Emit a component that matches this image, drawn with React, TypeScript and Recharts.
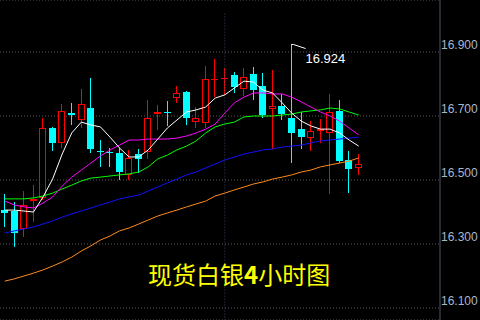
import { Bar, CartesianGrid, ComposedChart, Line, ReferenceLine, XAxis, YAxis } from "recharts";

// 4h candles, oldest first
const open = [16.406, 16.403, 16.347, 16.434, 16.444, 16.663, 16.616, 16.708, 16.6875, 16.725, 16.592, 16.589, 16.584, 16.516, 16.581, 16.5875, 16.706, 16.714, 16.756, 16.775, 16.681, 16.678, 16.814, 16.817, 16.828, 16.784, 16.831, 16.794, 16.722, 16.731, 16.694, 16.659, 16.631, 16.653, 16.647, 16.716, 16.5625, 16.5375];
const close = [16.397, 16.334, 16.422, 16.441, 16.663, 16.616, 16.716, 16.703, 16.7375, 16.597, 16.589, 16.586, 16.525, 16.569, 16.566, 16.694, 16.7125, 16.711, 16.772, 16.694, 16.694, 16.816, 16.817, 16.82, 16.791, 16.822, 16.781, 16.703, 16.731, 16.706, 16.647, 16.634, 16.653, 16.659, 16.7125, 16.559, 16.534, 16.55];
const high = [16.456, 16.431, 16.466, 16.484, 16.694, 16.666, 16.738, 16.741, 16.784, 16.819, 16.625, 16.6, 16.6, 16.594, 16.597, 16.75, 16.734, 16.747, 16.794, 16.778, 16.728, 16.856, 16.878, 16.85, 16.8375, 16.85, 16.853, 16.834, 16.844, 16.769, 16.924, 16.7125, 16.684, 16.691, 16.769, 16.75, 16.591, 16.581];
const low = [16.353, 16.291, 16.322, 16.369, 16.4375, 16.591, 16.6, 16.672, 16.6625, 16.584, 16.541, 16.541, 16.5, 16.5, 16.522, 16.566, 16.656, 16.669, 16.741, 16.672, 16.6625, 16.6625, 16.759, 16.766, 16.772, 16.7625, 16.75, 16.694, 16.597, 16.6875, 16.553, 16.597, 16.591, 16.616, 16.456, 16.553, 16.459, 16.516];

// moving averages
const ma5 = [16.406, 16.406, 16.403, 16.4, 16.447, 16.503, 16.581, 16.647, 16.681, 16.672, 16.666, 16.634, 16.6, 16.572, 16.572, 16.594, 16.628, 16.6625, 16.6875, 16.7125, 16.719, 16.728, 16.756, 16.766, 16.7875, 16.809, 16.806, 16.781, 16.772, 16.741, 16.709, 16.684, 16.669, 16.659, 16.659, 16.647, 16.625, 16.606];
const ma10 = [16.434, 16.422, 16.416, 16.4125, 16.428, 16.447, 16.481, 16.509, 16.531, 16.553, 16.575, 16.594, 16.609, 16.625, 16.625, 16.628, 16.628, 16.628, 16.631, 16.6375, 16.647, 16.659, 16.675, 16.709, 16.741, 16.759, 16.772, 16.772, 16.769, 16.769, 16.759, 16.744, 16.728, 16.7125, 16.7, 16.684, 16.6625, 16.641];
const ma20 = [16.441, 16.441, 16.441, 16.444, 16.45, 16.459, 16.472, 16.484, 16.497, 16.506, 16.509, 16.5125, 16.516, 16.519, 16.525, 16.541, 16.566, 16.578, 16.594, 16.606, 16.622, 16.647, 16.666, 16.675, 16.681, 16.697, 16.7, 16.7, 16.7, 16.703, 16.706, 16.7125, 16.716, 16.719, 16.725, 16.722, 16.7125, 16.703];
const ma40 = [16.334, 16.341, 16.347, 16.353, 16.3625, 16.372, 16.384, 16.394, 16.403, 16.4125, 16.422, 16.431, 16.441, 16.447, 16.453, 16.466, 16.478, 16.491, 16.503, 16.516, 16.525, 16.5375, 16.55, 16.5625, 16.572, 16.581, 16.5875, 16.594, 16.597, 16.603, 16.606, 16.609, 16.616, 16.622, 16.625, 16.628, 16.631, 16.634];
const ma60 = [16.184, 16.191, 16.2, 16.209, 16.219, 16.231, 16.244, 16.259, 16.278, 16.294, 16.3125, 16.325, 16.341, 16.35, 16.3625, 16.375, 16.3875, 16.397, 16.406, 16.416, 16.425, 16.434, 16.45, 16.459, 16.469, 16.478, 16.4875, 16.494, 16.503, 16.509, 16.516, 16.525, 16.531, 16.541, 16.547, 16.553, 16.559, 16.569];

const priceTicks = [16.1, 16.3, 16.5, 16.7, 16.9];
const emptySlots = 8; // free space to the right of the last candle
const dividerSlot = 23;

const peak = Math.max(...high);

const rows = [
  ...open.map((o, i) => ({
    slot: i,
    open: o,
    close: close[i],
    high: high[i],
    low: low[i],
    range: [low[i], high[i]],
    ma5: ma5[i],
    ma10: ma10[i],
    ma20: ma20[i],
    ma40: ma40[i],
    ma60: ma60[i],
  })),
  ...Array.from({ length: emptySlots }, (_, k) => ({ slot: open.length + k })),
];

function Candle(props: any) {
  const { x, y, width, height, payload } = props;
  if (payload == null || payload.high == null || !Number.isFinite(y)) return null;
  const top = Math.min(y, y + height);
  const h = Math.abs(height);
  const span = payload.high - payload.low || 1;
  const toY = (v: number) => top + ((payload.high - v) / span) * h;
  const cx = Math.floor(x + width / 2) + 0.5;
  const up = payload.close >= payload.open;
  const color = up ? "#ff0000" : "#00ffff";
  const bTop = Math.round(toY(Math.max(payload.open, payload.close)));
  const bBot = Math.round(toY(Math.min(payload.open, payload.close)));
  const yHi = Math.round(toY(payload.high));
  const yLo = Math.round(toY(payload.low));
  const isPeak = payload.high === peak;

  return (
    <g shapeRendering="crispEdges">
      {up ? (
        <>
          <line x1={cx} x2={cx} y1={yHi} y2={bTop} stroke={color} />
          <line x1={cx} x2={cx} y1={bBot} y2={yLo} stroke={color} />
          {bBot - bTop < 2 ? (
            <line x1={cx - 3.5} x2={cx + 3.5} y1={bTop + 0.5} y2={bTop + 0.5} stroke={color} />
          ) : (
            <rect x={cx - 3} y={bTop + 0.5} width={6} height={bBot - bTop - 1} fill="#000" stroke={color} />
          )}
        </>
      ) : (
        <>
          <line x1={cx} x2={cx} y1={yHi} y2={yLo} stroke={color} />
          <rect x={cx - 3.5} y={bTop} width={7} height={Math.max(1, bBot - bTop)} fill={color} />
        </>
      )}
      {isPeak && (
        <g>
          <polyline
            points={`${cx},${yHi + 0.5} ${cx + 2},${yHi + 0.5} ${cx + 14},${yHi + 4.5}`}
            fill="none"
            stroke="#fff"
            shapeRendering="auto"
          />
          <text x={cx + 14} y={yHi + 14} dy="0.35em" fill="#fff" fontSize={13} fontFamily="Liberation Sans, Arial, sans-serif">
            {payload.high.toFixed(3)}
          </text>
        </g>
      )}
    </g>
  );
}

function PriceTick(props: any) {
  const { x, y, payload } = props;
  return (
    <text x={x} y={y - 7} dy="0.35em" textAnchor="start" fill="#a9b7cc" fontSize={12} fontFamily="Liberation Sans, Arial, sans-serif">
      {Number(payload.value).toFixed(3)}
    </text>
  );
}

export default function App() {
  return (
    <div style={{ position: "fixed", left: 0, top: 0, width: 480, height: 320, background: "#000" }}>
      <ComposedChart width={480} height={320} data={rows} margin={{ top: 0, right: 0, bottom: 0, left: 0 }}>
        <CartesianGrid vertical={false} stroke="#5a5a5a" strokeDasharray="1 2" />
        <XAxis dataKey="slot" type="category" hide />
        <YAxis
          orientation="right"
          width={40}
          domain={[16.0625, 17.0625]}
          ticks={priceTicks}
          interval={0}
          tickLine={false}
          tickSize={0}
          tickMargin={1}
          axisLine={{ stroke: "#4d5562" }}
          tick={<PriceTick />}
        />
        <ReferenceLine
          segment={[
            { x: dividerSlot, y: 17.02 },
            { x: dividerSlot, y: 16.0625 },
          ]}
          stroke="#3a4660"
          strokeDasharray="1 2"
        />
        <Line dataKey="ma60" stroke="#ff8a1a" dot={false} activeDot={false} strokeWidth={1} isAnimationActive={false} />
        <Line dataKey="ma40" stroke="#1010ff" dot={false} activeDot={false} strokeWidth={1} isAnimationActive={false} />
        <Line dataKey="ma20" stroke="#00ff00" dot={false} activeDot={false} strokeWidth={1} isAnimationActive={false} />
        <Line dataKey="ma10" stroke="#ff00ff" dot={false} activeDot={false} strokeWidth={1} isAnimationActive={false} />
        <Line dataKey="ma5" stroke="#ffffff" dot={false} activeDot={false} strokeWidth={1} isAnimationActive={false} />
        <Bar dataKey="range" barSize={7} shape={<Candle />} activeBar={false} isAnimationActive={false} />
      </ComposedChart>
      <div
        style={{
          position: "absolute",
          left: 148,
          top: 262,
          fontSize: 24,
          lineHeight: "24px",
          color: "#ffff00",
          fontFamily: "'Noto Sans CJK SC', sans-serif",
          whiteSpace: "nowrap",
        }}
      >
        现货白银<b>4</b>小时图
      </div>
    </div>
  );
}
